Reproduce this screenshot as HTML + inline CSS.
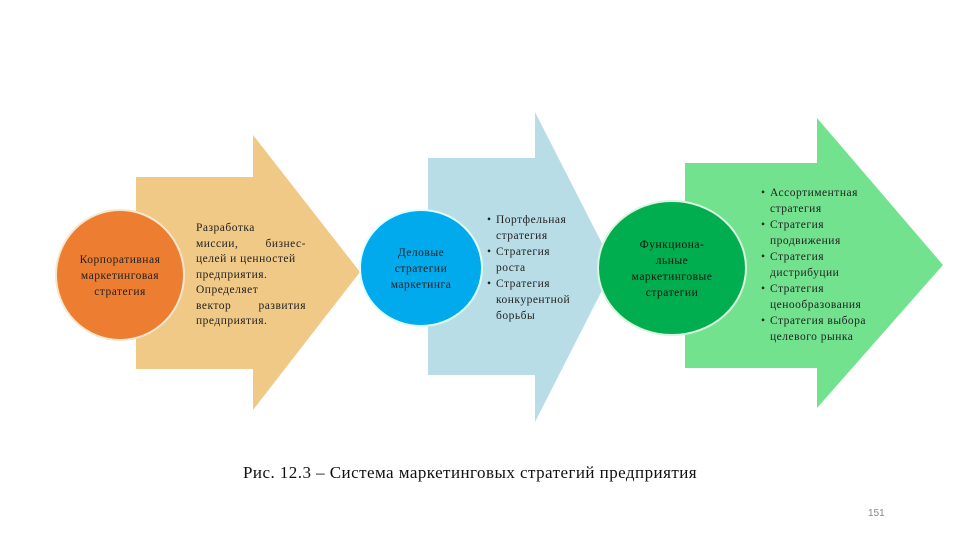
<!DOCTYPE html>
<html><head><meta charset="utf-8"><style>
body{margin:0;width:960px;height:540px;background:#fff;position:relative;overflow:hidden;font-family:"Liberation Serif","DejaVu Serif",serif;}
.t{position:absolute;font-size:11.5px;line-height:16px;color:#222;letter-spacing:0.5px}
.c{text-align:center}
.j{text-align:justify;text-align-last:justify}
ul{margin:0;padding:0 0 0 10px;list-style:none}
li{position:relative}
li:before{content:"•";position:absolute;left:-9px}
</style></head><body>
<svg width="960" height="540" style="position:absolute;left:0;top:0">
<polygon points="136,177 253,177 253,135 360,272 253,410 253,369 136,369" fill="#f0c987"/>
<polygon points="428,158 535,158 535,112 614,267 535,422 535,375 428,375" fill="#b8dde6"/>
<polygon points="685,163 817,163 817,118 943,265 817,408 817,368 685,368" fill="#72e28f"/>
<ellipse cx="120" cy="275" rx="64" ry="65" fill="#ec7d31" stroke="#f6e7cf" stroke-width="2"/>
<ellipse cx="421" cy="268" rx="61" ry="58" fill="#00aaec" stroke="#dff" stroke-width="2"/>
<ellipse cx="672" cy="268" rx="74" ry="67" fill="#00ad4f" stroke="#d9f5df" stroke-width="2"/>
</svg>
<div class="t c" style="left:55px;top:252px;width:130px">Корпоративная<br>маркетинговая<br>стратегия</div>
<div class="t" style="left:196px;top:221px;width:110px;line-height:15.5px"><div>Разработка</div><div class="j">миссии, бизнес-</div><div>целей и ценностей</div><div>предприятия.</div><div>Определяет</div><div class="j">вектор развития</div><div>предприятия.</div></div>
<div class="t c" style="left:365px;top:245px;width:112px">Деловые<br>стратегии<br>маркетинга</div>
<div class="t" style="left:486px;top:212px;width:120px"><ul><li>Портфельная<br>стратегия</li><li>Стратегия<br>роста</li><li>Стратегия<br>конкурентной<br>борьбы</li></ul></div>
<div class="t c" style="left:607px;top:237px;width:130px;color:#111">Функциона-<br>льные<br>маркетинговые<br>стратегии</div>
<div class="t" style="left:760px;top:185px;width:130px"><ul><li>Ассортиментная<br>стратегия</li><li>Стратегия<br>продвижения</li><li>Стратегия<br>дистрибуции</li><li>Стратегия<br>ценообразования</li><li>Стратегия выбора<br>целевого рынка</li></ul></div>
<div style="position:absolute;left:243px;top:463px;font-size:17px;letter-spacing:0.45px;color:#111;white-space:nowrap">Рис. 12.3 – Система маркетинговых стратегий предприятия</div>
<div style="position:absolute;left:868px;top:508px;font-size:10px;color:#888;font-family:'Liberation Sans',sans-serif">151</div>
</body></html>
